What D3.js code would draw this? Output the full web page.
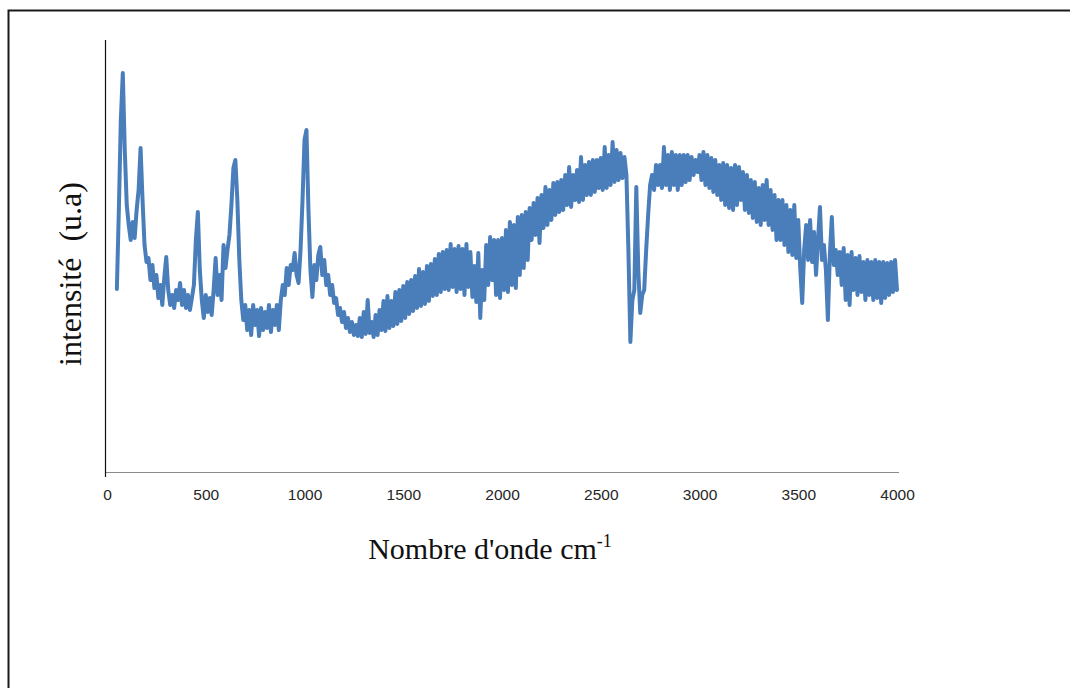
<!DOCTYPE html>
<html>
<head>
<meta charset="utf-8">
<script src="https://cdn.jsdelivr.net/npm/d3@7"></script>
<style>
  body { margin: 0; background: #fff; }
  svg { display: block; }
</style>
</head>
<body>
<svg id="chart"></svg>
<script>
// ============================================================================
// Data (Raman spectrum, arbitrary intensity units)
// ============================================================================

// sampling grid of the spectrum, cm-1
const waveStart = 50;
const waveStep = 10;

// 50 .. 990 cm-1
const bandsLow = [
  183, 262, 352, 399, 322, 267, 247, 232, 250, 234,
  262, 282, 324, 272, 227, 210, 214, 192, 207, 184,
  197, 174, 187, 167, 194, 215, 182, 167, 177, 164,
  182, 172, 189, 167, 182, 164, 177, 162, 174, 187,
  232, 260, 202, 172, 154, 177, 160, 174, 157, 182,
  214, 177, 197, 172, 227, 204, 222, 237, 267, 304,
  312, 272, 212, 172, 152, 167, 142, 162, 137, 167,
  147, 162, 136, 164, 142, 160, 144, 167, 140, 162,
  147, 167, 142, 172, 187, 177, 204, 187, 207, 202,
  219, 197, 189, 222, 272
];

// 1000 .. 1990 cm-1
const bandsMid = [
  332, 342, 262, 202, 175, 207, 192, 217, 225, 197,
  212, 187, 197, 177, 187, 169, 174, 157, 164, 150,
  160, 144, 154, 140, 150, 137, 147, 136, 154, 135,
  160, 138, 172, 139, 150, 135, 157, 137, 162, 142,
  171, 141, 176, 144, 171, 146, 180, 148, 182, 151,
  186, 154, 190, 158, 192, 161, 196, 164, 203, 166,
  200, 168, 206, 171, 208, 176, 213, 177, 218, 180,
  220, 183, 222, 182, 228, 185, 223, 180, 226, 183,
  223, 177, 228, 185, 220, 175, 206, 170, 219, 154,
  202, 172, 227, 187, 235, 192, 232, 177, 232, 174
];

// 2000 .. 2990 cm-1
const bandsHigh = [
  234, 182, 242, 180, 250, 187, 247, 184, 255, 197,
  257, 204, 260, 212, 264, 232, 269, 237, 274, 229,
  277, 244, 285, 247, 282, 252, 289, 257, 290, 260,
  292, 262, 297, 267, 305, 265, 297, 272, 302, 270,
  315, 272, 307, 277, 310, 277, 312, 280, 312, 284,
  314, 282, 325, 284, 317, 287, 330, 290, 322, 292,
  319, 294, 315, 297, 222, 130, 172, 182, 285, 202,
  159, 177, 182, 222, 257, 287, 297, 282, 307, 287,
  307, 284, 325, 287, 317, 282, 320, 287, 317, 282,
  317, 287, 317, 290, 317, 292, 315, 297, 312, 300
];

// 3000 .. 4000 cm-1
const bandsTop = [
  317, 292, 320, 287, 317, 284, 314, 280, 312, 277,
  307, 272, 309, 267, 307, 264, 304, 262, 307, 267,
  305, 272, 300, 262, 297, 259, 292, 254, 290, 250,
  284, 247, 287, 252, 292, 247, 282, 242, 277, 232,
  272, 232, 272, 227, 267, 220, 262, 217, 267, 214,
  252, 204, 169, 222, 247, 212, 252, 210, 240, 197,
  232, 265, 212, 227, 202, 152, 217, 255, 207, 222,
  197, 220, 187, 224, 172, 217, 167, 220, 182, 214,
  177, 216, 180, 210, 172, 212, 177, 210, 172, 212,
  174, 210, 169, 210, 174, 209, 177, 210, 180, 212,
  182
];

const xTicks = [0, 500, 1000, 1500, 2000, 2500, 3000, 3500, 4000];

// ============================================================================
// Layout
// ============================================================================

const W = 1070, H = 688;
const plot = { left: 105, right: 899, top: 40, bottom: 472 };

const svg = d3.select("#chart").attr("width", W).attr("height", H);

// outer frame (runs off the right and bottom edge)
svg.append("rect")
  .attr("x", 8.5).attr("y", 10.5)
  .attr("width", 1200).attr("height", 800)
  .attr("fill", "none")
  .attr("stroke", "#1a1a1a")
  .attr("stroke-width", 2);

const intensity = bandsLow.concat(bandsMid, bandsHigh, bandsTop);
const spectrum = intensity.map((v, i) => ({ wn: waveStart + i * waveStep, v: v }));

const x = d3.scaleLinear().domain([0, 4000]).range([107, 897]);
const y = d3.scaleLinear().domain([0, 432]).range([plot.bottom, plot.top]);

// ============================================================================
// Axes
// ============================================================================

const xAxis = d3.axisBottom(x)
  .tickValues(xTicks)
  .tickFormat(d3.format("d"))
  .tickSize(0)
  .tickPadding(16);
const gx = svg.append("g")
  .attr("transform", `translate(0, ${plot.bottom + 0.5})`)
  .call(xAxis);
gx.select(".domain").remove();
gx.selectAll("text")
  .attr("font-family", "'Liberation Sans', Arial, sans-serif")
  .attr("font-size", 15.5)
  .attr("fill", "#262626");

svg.append("line")
  .attr("x1", plot.left).attr("x2", plot.right)
  .attr("y1", plot.bottom + 0.5).attr("y2", plot.bottom + 0.5)
  .attr("stroke", "#8a8a8a").attr("stroke-width", 1);

svg.append("line")
  .attr("x1", plot.left + 0.5).attr("x2", plot.left + 0.5)
  .attr("y1", plot.top).attr("y2", plot.bottom + 5)
  .attr("stroke", "#111").attr("stroke-width", 1.2);

// ============================================================================
// Spectrum
// ============================================================================

const line = d3.line()
  .x(d => x(d.wn))
  .y(d => y(d.v));

svg.append("path")
  .datum(spectrum)
  .attr("d", line)
  .attr("fill", "none")
  .attr("stroke", "#4a7ebb")
  .attr("stroke-width", 4)
  .attr("stroke-linejoin", "round")
  .attr("stroke-linecap", "round");

// ============================================================================
// Titles
// ============================================================================

const xTitle = svg.append("text")
  .attr("x", 490).attr("y", 559)
  .attr("text-anchor", "middle")
  .attr("font-family", "'Liberation Serif', 'Times New Roman', serif")
  .attr("font-size", 30)
  .attr("fill", "#111");
xTitle.append("tspan").text("Nombre d'onde cm");
xTitle.append("tspan").attr("dy", -12).attr("font-size", 18).text("-1");

svg.append("text")
  .attr("transform", "translate(81, 274) rotate(-90)")
  .attr("text-anchor", "middle")
  .attr("font-family", "'Liberation Serif', 'Times New Roman', serif")
  .attr("font-size", 32)
  .attr("fill", "#111")
  .style("white-space", "pre")
  .text("intensité  (u.a)");
</script>
</body>
</html>
